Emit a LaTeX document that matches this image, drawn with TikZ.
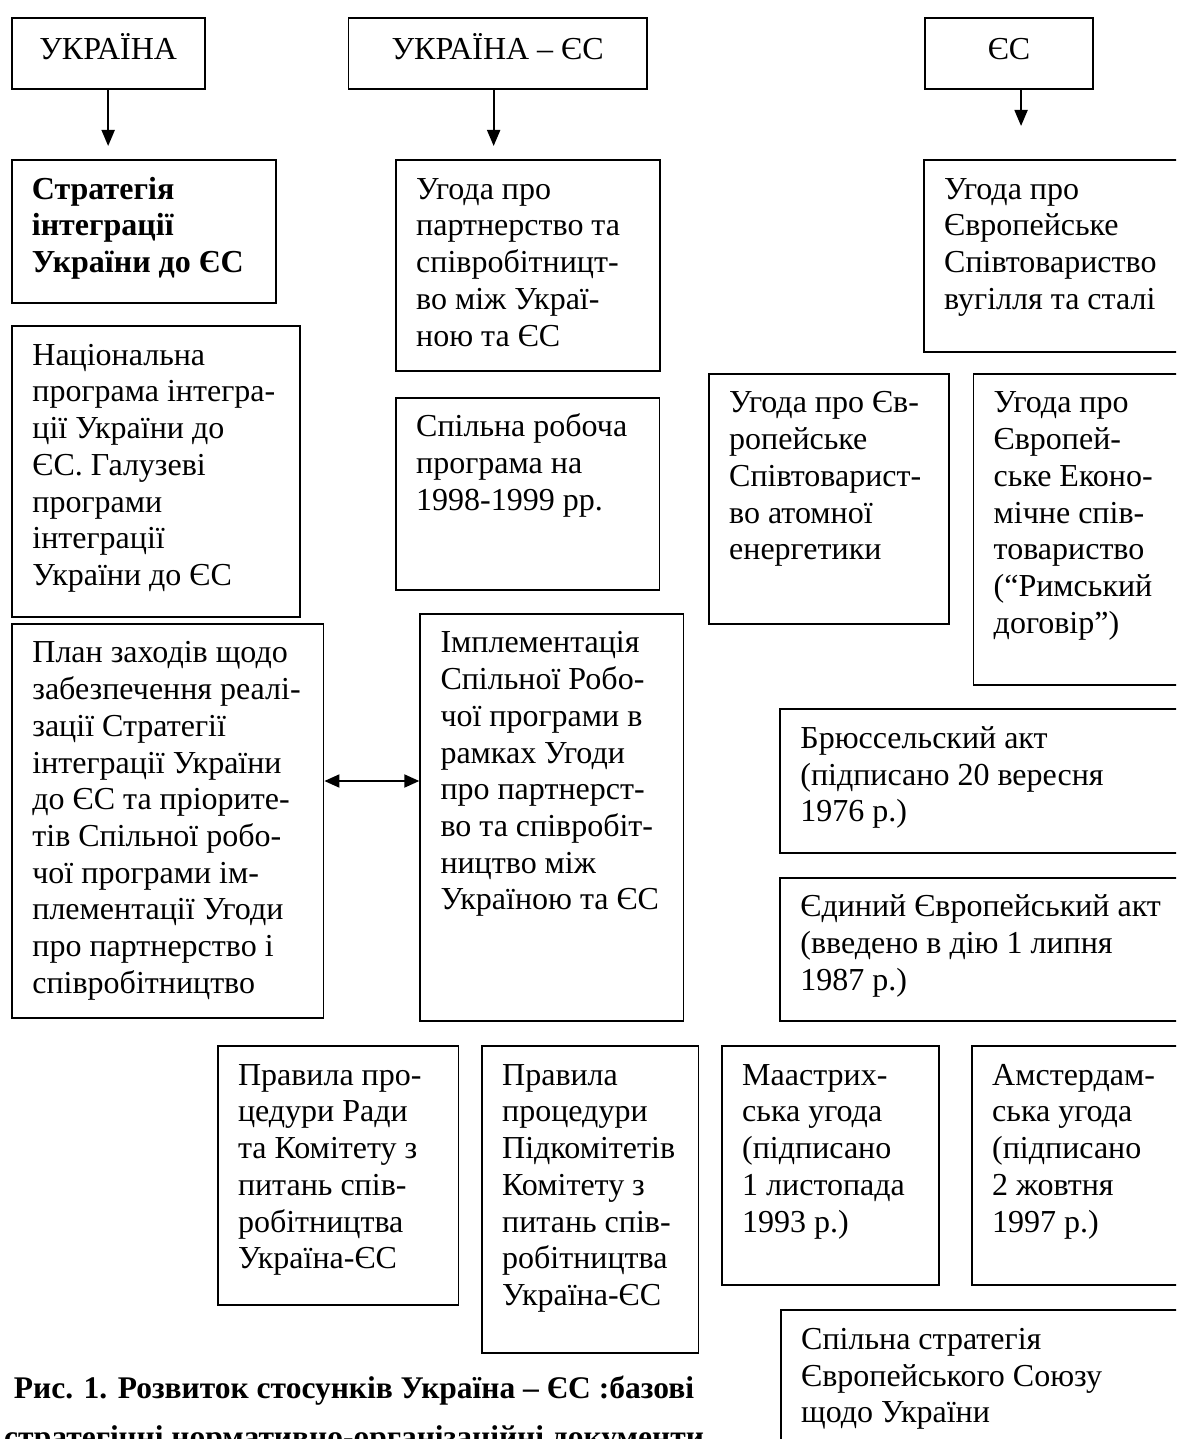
\documentclass[tikz,border=0pt]{standalone}
\usepackage{fontspec}
\setmainfont{Liberation Serif}
\usetikzlibrary{arrows.meta}

\tikzset{
  doc/.style={draw, line width=1.9pt, anchor=north west, inner sep=0pt},
  head/.style={doc, minimum height=71.6pt, text height=21pt, text depth=9.4pt,
    font=\fontsize{32}{36.7}\selectfont},
  txt/.style={anchor=north west, inner sep=0pt, align=left,
    font=\fontsize{32}{36.7}\selectfont},
  arr/.style={line width=1.9pt, -{Triangle[length=16pt,width=13pt]}},
  biarr/.style={line width=1.9pt,
    {Triangle[length=15pt,width=13pt]}-{Triangle[length=15pt,width=13pt]}},
}
\newcommand{\firstline}{\rule{0pt}{30pt}}

\begin{document}
\begin{tikzpicture}[x=1pt, y=-1pt]
        \useasboundingbox (0,0) rectangle (1176,1439);
        \clip (0,0) rectangle (1176,1439);

        % top row
        \node[head, minimum width=193pt]   (ua)   at (10.7,16.7)  {УКРАЇНА};
        \node[head, minimum width=298.4pt] (uaes) at (347.5,16.7) {УКРАЇНА – ЄС};
        \node[head, minimum width=168.2pt] (es)   at (924,16.7)   {ЄС};

        % Ukraine column
        \node[doc, minimum width=264pt, minimum height=143pt] (strat) at (10.7,159) {};
        \node[txt, font=\fontsize{32}{36.7}\selectfont\bfseries] (strat-t) at ([shift={(21pt,-10pt)}]strat.north west)
            {\firstline Стратегія\\інтеграції\\України до ЄС};
        \node[doc, minimum width=287.7pt, minimum height=291pt] (natprog) at (11.2,325) {};
        \node[txt] (natprog-t) at ([shift={(21pt,-10pt)}]natprog.north west)
            {\firstline Національна\\програма інтегра-\\ції України до\\ЄС. Галузеві\\програми\\інтеграції\\України до ЄС};
        \node[doc, minimum width=311.3pt, minimum height=394pt] (plan) at (11.2,622.7) {};
        \node[txt] (plan-t) at ([shift={(21pt,-10pt)}]plan.north west)
            {\firstline План заходів щодо\\забезпечення реалі-\\зації Стратегії\\інтеграції України\\до ЄС та пріорите-\\тів Спільної робо-\\чої програми ім-\\плементації Угоди\\про партнерство і\\співробітництво};

        % Ukraine - EU column
        \node[doc, minimum width=263.6pt, minimum height=211pt] (pca) at (395,159) {};
        \node[txt] (pca-t) at ([shift={(21pt,-10pt)}]pca.north west)
            {\firstline Угода про\\партнерство та\\співробітницт-\\во між Украї-\\ною та ЄС};
        \node[doc, minimum width=263.5pt, minimum height=192.3pt] (jwp) at (395,396.7) {};
        \node[txt] (jwp-t) at ([shift={(21pt,-10pt)}]jwp.north west)
            {\firstline Спільна робоча\\програма на\\1998-1999 рр.};
        \node[doc, minimum width=263.2pt, minimum height=407.3pt] (impl) at (419.3,612.7) {};
        \node[txt] (impl-t) at ([shift={(21pt,-10pt)}]impl.north west)
            {\firstline Імплементація\\Спільної Робо-\\чої програми в\\рамках Угоди\\про партнерст-\\во та співробіт-\\ництво між\\Україною та ЄС};
        \node[doc, minimum width=240.7pt, minimum height=259.3pt] (rules1) at (216.8,1045) {};
        \node[txt] (rules1-t) at ([shift={(21pt,-10pt)}]rules1.north west)
            {\firstline Правила про-\\цедури Ради\\та Комітету з\\питань спів-\\робітництва\\Україна-ЄС};
        \node[doc, minimum width=216.5pt, minimum height=307.3pt] (rules2) at (481,1045) {};
        \node[txt] (rules2-t) at ([shift={(21pt,-10pt)}]rules2.north west)
            {\firstline Правила\\процедури\\Підкомітетів\\Комітету з\\питань спів-\\робітництва\\Україна-ЄС};

        % EU column
        \node[doc, minimum width=280pt, minimum height=192pt] (ecsc) at (923,159) {};
        \node[txt] (ecsc-t) at ([shift={(21pt,-10pt)}]ecsc.north west)
            {\firstline Угода про\\Європейське\\Співтовариство\\вугілля та сталі};
        \node[doc, minimum width=240pt, minimum height=250pt] (euratom) at (708,372.7) {};
        \node[txt] (euratom-t) at ([shift={(21pt,-10pt)}]euratom.north west)
            {\firstline Угода про Єв-\\ропейське\\Співтоварист-\\во атомної\\енергетики};
        \node[doc, minimum width=230pt, minimum height=311.3pt] (eec) at (972.5,372.7) {};
        \node[txt] (eec-t) at ([shift={(21pt,-10pt)}]eec.north west)
            {\firstline Угода про\\Європей-\\ське Еконо-\\мічне спів-\\товариство\\(“Римський\\договір”)};
        \node[doc, minimum width=420pt, minimum height=143.4pt] (brussels) at (779.2,708.3) {};
        \node[txt] (brussels-t) at ([shift={(21pt,-10pt)}]brussels.north west)
            {\firstline Брюссельский акт\\(підписано 20 вересня\\1976 р.)};
        \node[doc, minimum width=420pt, minimum height=143.3pt] (sea) at (779.2,876.7) {};
        \node[txt] (sea-t) at ([shift={(21pt,-10pt)}]sea.north west)
            {\firstline Єдиний Європейський акт\\(введено в дію 1 липня\\1987 р.)};
        \node[doc, minimum width=217pt, minimum height=239.3pt] (maastricht) at (721,1045) {};
        \node[txt] (maastricht-t) at ([shift={(21pt,-10pt)}]maastricht.north west)
            {\firstline Маастрих-\\ська угода\\(підписано\\1 листопада\\1993 р.)};
        \node[doc, minimum width=230pt, minimum height=239.3pt] (amsterdam) at (971,1045) {};
        \node[txt] (amsterdam-t) at ([shift={(21pt,-10pt)}]amsterdam.north west)
            {\firstline Амстердам-\\ська угода\\(підписано\\2 жовтня\\1997 р.)};
        \node[doc, minimum width=420pt, minimum height=160pt] (cs) at (780,1309.3) {};
        \node[txt] (cs-t) at ([shift={(21pt,-10pt)}]cs.north west)
            {\firstline Спільна стратегія\\Європейського Союзу\\щодо України};

        % caption
        \node[anchor=north, inner sep=0pt, align=center, font=\fontsize{31.5}{36.7}\selectfont\bfseries] (caption) at (354,1368.3)
            {\firstline Рис. 1. Розвиток стосунків Україна – ЄС :базові\\[12pt]стратегічні нормативно-організаційні документи};

        % arrows
        \coordinate (link) at (0,781);
        \draw [arr, shorten >=13pt] (ua.south) -- (ua.south |- strat.north);
        \draw [arr, shorten >=13pt] ([xshift=-4pt]uaes.south) -- ([xshift=-4pt]uaes.south |- pca.north);
        \draw [arr, shorten >=33pt] ([xshift=12pt]es.south) -- ([xshift=12pt]es.south |- ecsc.north);
        \draw [biarr] (plan.east |- link) -- (impl.west |- link);
\end{tikzpicture}
\end{document}
